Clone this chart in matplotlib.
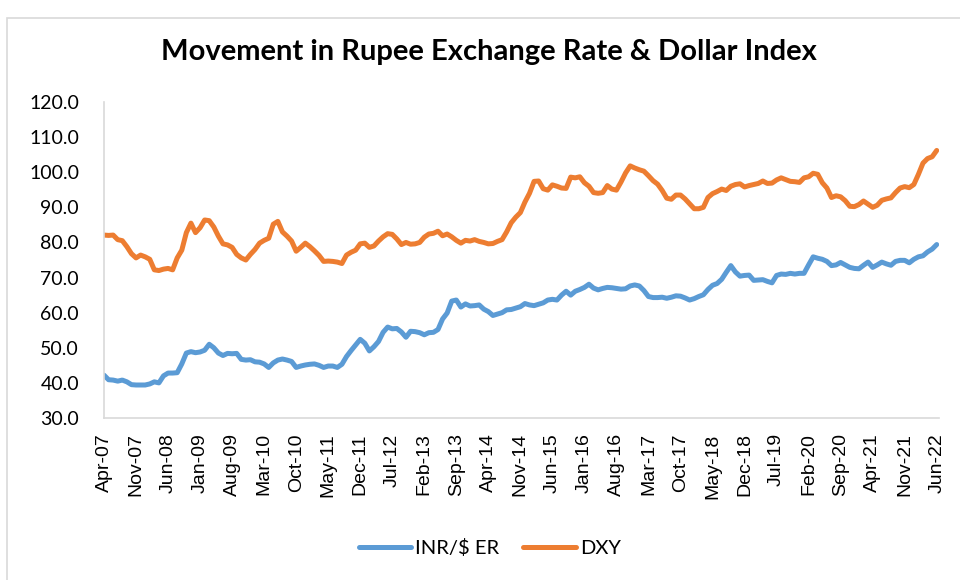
import matplotlib.pyplot as plt
from matplotlib.patches import Rectangle
import pandas as pd

# month labels Apr-07 .. Jun-22 (183 months)
months = pd.date_range('2007-04-01', '2022-06-01', freq='MS')
month_labels = [d.strftime('%b-%y') for d in months]

# INR per USD
inr = [
    42.2, 40.9, 40.8, 40.5, 40.8, 40.3, 39.5, 39.4, 39.4,
    39.4, 39.7, 40.3, 40.0, 42.0, 42.8, 42.8, 42.9, 45.4, 48.5, 48.9, 48.6,
    48.8, 49.3, 51.0, 50.0, 48.5, 47.8, 48.4, 48.3, 48.4, 46.7, 46.5, 46.6,
    46.0, 45.9, 45.4, 44.4, 45.7, 46.5, 46.8, 46.5, 46.1, 44.4, 44.8, 45.1,
    45.3, 45.4, 45.0, 44.4, 44.8, 44.8, 44.4, 45.3, 47.5, 49.2, 50.8, 52.4,
    51.3, 49.1, 50.3, 51.8, 54.4, 55.9, 55.4, 55.5, 54.5, 53.0, 54.7, 54.6,
    54.3, 53.7, 54.3, 54.4, 55.2, 58.2, 59.9, 63.3, 63.6, 61.6, 62.5, 61.9,
    62.0, 62.2, 61.0, 60.3, 59.2, 59.6, 60.0, 60.8, 60.9, 61.3, 61.7, 62.6,
    62.2, 62.0, 62.4, 62.8, 63.6, 63.8, 63.6, 65.0, 66.1, 65.0, 66.1, 66.6,
    67.2, 68.1, 67.0, 66.5, 66.9, 67.2, 67.1, 66.9, 66.7, 66.8, 67.6, 67.9,
    67.6, 66.3, 64.6, 64.3, 64.3, 64.4, 64.1, 64.4, 64.8, 64.7, 64.2, 63.6,
    64.0, 64.6, 65.1, 66.6, 67.8, 68.3, 69.5, 71.5, 73.4, 71.6, 70.4, 70.6,
    70.7, 69.2, 69.3, 69.4, 68.9, 68.5, 70.6, 71.0, 70.9, 71.2, 71.0, 71.2,
    71.2, 73.6, 75.9, 75.5, 75.2, 74.6, 73.4, 73.6, 74.3, 73.6, 72.9, 72.6,
    72.5, 73.5, 74.4, 72.9, 73.6, 74.4, 73.9, 73.5, 74.6, 74.9, 74.9, 74.2,
    75.2, 75.9, 76.2, 77.3, 78.1, 79.4,
]

# US dollar index
dxy = [
    82.1, 82.0, 82.1, 80.8, 80.5, 78.8, 76.8, 75.6, 76.4,
    75.9, 75.2, 72.2, 72.0, 72.4, 72.6, 72.2, 75.6, 77.8, 82.8, 85.5, 82.8,
    84.2, 86.4, 86.2, 84.4, 81.8, 79.6, 79.3, 78.6, 76.6, 75.6, 75.0, 76.6,
    78.0, 79.8, 80.6, 81.2, 85.2, 86.0, 83.0, 81.8, 80.4, 77.5, 78.6, 79.8,
    78.8, 77.6, 76.3, 74.6, 74.7, 74.6, 74.4, 74.0, 76.4, 77.2, 77.8, 79.6,
    79.8, 78.6, 79.0, 80.4, 81.6, 82.5, 82.3, 81.0, 79.4, 80.0, 79.5, 79.6,
    80.0, 81.5, 82.4, 82.6, 83.2, 81.9, 82.4, 81.6, 80.6, 79.8, 80.6, 80.4,
    80.8, 80.3, 80.0, 79.6, 79.7, 80.3, 80.8, 83.0, 85.6, 87.2, 88.5, 91.5,
    94.0, 97.4, 97.5, 95.3, 94.9, 96.4, 96.0, 95.5, 95.4, 98.6, 98.4, 98.7,
    97.0, 96.0, 94.2, 94.0, 94.2, 96.2, 95.2, 94.9, 97.2, 99.8, 101.8, 101.2,
    100.7, 100.3, 99.0, 97.6, 96.6, 94.8, 92.6, 92.3, 93.5, 93.5, 92.4, 91.0,
    89.6, 89.6, 90.0, 92.8, 93.9, 94.5, 95.2, 94.8, 96.0, 96.5, 96.7, 95.8,
    96.2, 96.5, 96.8, 97.5, 96.8, 96.9, 97.8, 98.4, 97.9, 97.4, 97.3, 97.1,
    98.4, 98.7, 99.7, 99.4, 97.0, 95.5, 92.8, 93.3, 93.0, 91.9, 90.3, 90.2,
    90.8, 91.8, 90.9, 90.0, 90.6, 92.0, 92.4, 92.7, 94.2, 95.5, 95.9, 95.6,
    96.5, 99.4, 102.6, 103.9, 104.4, 106.2,
]

plt.rcParams['font.family'] = ['Lato', 'DejaVu Sans']

fig = plt.figure(figsize=(9.6, 5.8), dpi=100)
fig.patches.append(Rectangle((7 / 960, -0.01), 1.0, 1 - 18 / 580 + 0.01,
                             transform=fig.transFigure, fill=False,
                             edgecolor='#D9D9D9', lw=1.2))

ax = fig.add_axes([104 / 960, 1 - 418 / 580, 835 / 960, 316 / 580])

x = list(range(len(months)))
ax.plot(x, inr, color='#5B9BD5', lw=3.6, label='INR/$ ER', solid_capstyle='round')
ax.plot(x, dxy, color='#ED7D31', lw=3.6, label='DXY', solid_capstyle='round')

ax.set_ylim(30, 120)
ax.set_yticks(range(30, 121, 10))
ax.set_yticklabels([f'{v:.1f}' for v in range(30, 121, 10)], fontsize=14)
ax.set_xlim(0, 182.5)
ax.set_xticks(x[::7])
ax.set_xticklabels(month_labels[::7], rotation=90, fontsize=14,
                   family=['Liberation Sans', 'DejaVu Sans'])

ax.tick_params(axis='y', length=0, pad=18)
ax.tick_params(axis='x', length=0, pad=11)
for s in ['top', 'right']:
    ax.spines[s].set_visible(False)
for s in ['left', 'bottom']:
    ax.spines[s].set_color('#D9D9D9')
    ax.spines[s].set_linewidth(1.2)

fig.text(0.509, 0.91, 'Movement in Rupee Exchange Rate & Dollar Index',
         ha='center', va='center', fontsize=21, fontweight='bold')

fig.legend(loc='center', bbox_to_anchor=(0.51, 0.055), ncol=2, frameon=False,
           fontsize=14.5, handlelength=2.6, columnspacing=1.2, handletextpad=0.2)

fig.savefig('out.png', dpi=100)
